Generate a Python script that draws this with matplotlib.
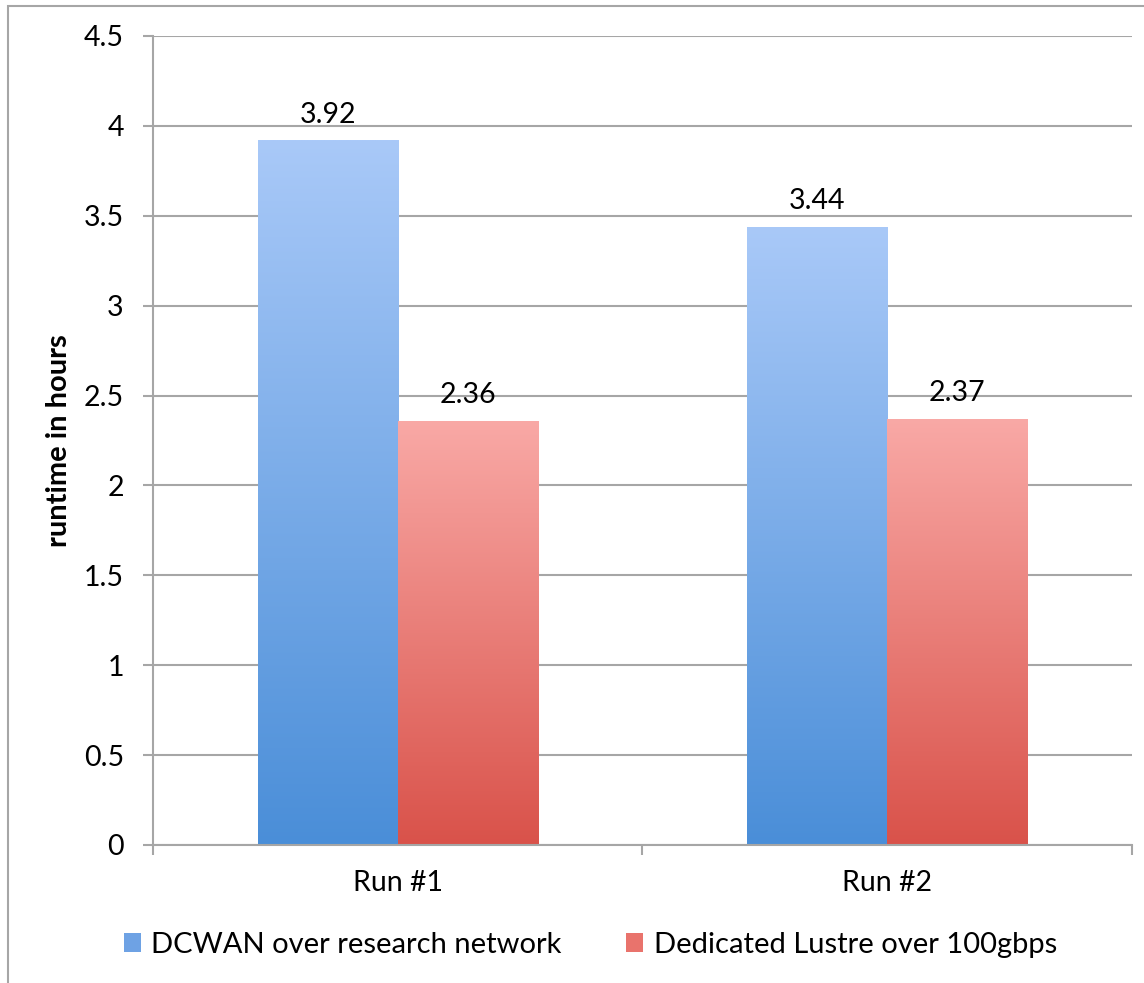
import numpy as np
import matplotlib
matplotlib.use("Agg")
import matplotlib.pyplot as plt
from matplotlib.colors import LinearSegmentedColormap
from matplotlib.patches import Rectangle

plt.rcParams['font.family'] = ['Lato', 'DejaVu Sans']

runs = ['Run #1', 'Run #2']
series = ['DCWAN over research network', 'Dedicated Lustre over 100gbps']
dcwan = [3.92, 3.44]
lustre = [2.36, 2.37]
yticks = [0, 0.5, 1, 1.5, 2, 2.5, 3, 3.5, 4, 4.5]

# light top -> darker bottom
blue_grad = LinearSegmentedColormap.from_list('b', ['#4a8ed8', '#a9c9f8'])
red_grad = LinearSegmentedColormap.from_list('r', ['#d9524a', '#f9a9a6'])

fig = plt.figure(figsize=(11.44, 9.83), dpi=100)
ax = fig.add_axes([0.1337, 0.1404, 0.8558, 0.823])

# outer frame (only left/top visible in reference)
fig.patches.append(Rectangle((0.007, -0.1), 1.2, 1.094, transform=fig.transFigure,
                             fill=False, edgecolor='#a6a6a6', lw=1.5))

w = 0.286
x = np.arange(len(runs))

grad = np.linspace(0, 1, 256).reshape(-1, 1)
for vals, off, cmap in [(dcwan, -w / 2, blue_grad), (lustre, w / 2, red_grad)]:
    bars = ax.bar(x + off, vals, width=w, color='none', edgecolor='none', zorder=2)
    for b in bars:
        x0, y0 = b.get_x(), b.get_y()
        im = ax.imshow(grad, cmap=cmap, aspect='auto', origin='lower',
                       extent=[x0, x0 + b.get_width(), y0, y0 + b.get_height()], zorder=2)
        im.set_clip_path(b)
        ax.annotate(f'{b.get_height():.2f}', (x0 + b.get_width() / 2, b.get_height()),
                    xytext=(0, 9), textcoords='offset points', ha='center', va='bottom',
                    fontsize=20.5)
ax.set_xlim(-0.5, 1.5)
ax.set_ylim(0, 4.5)

ax.set_yticks(yticks)
ax.set_yticklabels([f'{t:g}' for t in yticks], fontsize=20.5)
ax.yaxis.grid(True, color='#a6a6a6', lw=1.5, zorder=0)
ax.set_axisbelow(True)
ax.set_xticks(x)
ax.set_xticklabels(runs, fontsize=20.5)
ax.set_xticks([-0.5, 0.5, 1.5], minor=True)
ax.tick_params(axis='x', which='major', length=0, pad=18)
ax.tick_params(axis='x', which='minor', length=7, color='#a6a6a6', width=1.5)
ax.tick_params(axis='y', length=7, color='#a6a6a6', width=1.5, pad=14)
for s in ['top', 'right']:
    ax.spines[s].set_visible(False)
for s in ['left', 'bottom']:
    ax.spines[s].set_color('#a6a6a6')
    ax.spines[s].set_linewidth(1.5)

ax.set_ylabel('runtime in hours', fontsize=21, fontweight='bold')
ax.yaxis.set_label_coords(-0.083, 0.5)

handles = [Rectangle((0, 0), 1, 1, facecolor='#6ea2e4'), Rectangle((0, 0), 1, 1, facecolor='#e9736c')]
fig.legend(handles, series, loc='center', bbox_to_anchor=(0.516, 0.039), ncol=2, frameon=False,
           fontsize=21, handlelength=0.6, handleheight=0.6, handletextpad=0.35, columnspacing=2.2)

fig.savefig('out.png', dpi=100)
